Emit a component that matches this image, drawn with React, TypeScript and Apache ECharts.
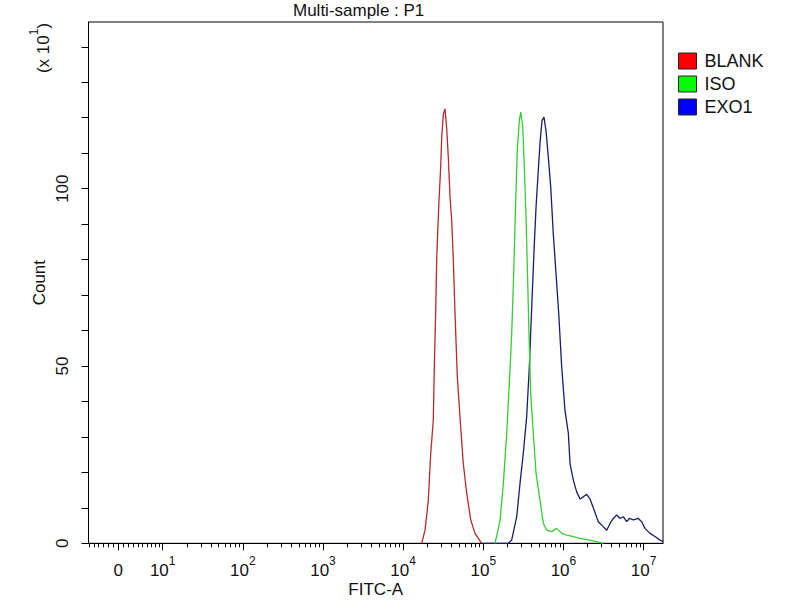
import React, { useEffect, useRef } from "react";
import * as echarts from "echarts";

// x values are in display decades (log10 of FITC-A intensity); y values are Count (x10^1)
const seriesNames = ["BLANK", "ISO", "EXO1"];

const blankData: [number, number][] = [
  [4.231, 0], [4.273, 3.7], [4.314, 12.2], [4.344, 25.4], [4.376, 34.7], [4.389, 49.7],
  [4.406, 65.7], [4.419, 80.7], [4.447, 96.7], [4.468, 106], [4.481, 114.5], [4.501, 121],
  [4.522, 122.5], [4.543, 117], [4.563, 109], [4.585, 97.6], [4.606, 91], [4.626, 79.8],
  [4.647, 64.8], [4.676, 46.9], [4.709, 35.7], [4.75, 22.5], [4.793, 14.1], [4.843, 6.6],
  [4.896, 2.8], [4.98, 0],
];

const isoData: [number, number][] = [
  [5.146, 0], [5.208, 6.3], [5.25, 16.9], [5.292, 31], [5.324, 45], [5.354, 59],
  [5.374, 72.3], [5.395, 89.2], [5.408, 99.5], [5.424, 110.8], [5.449, 119.2], [5.467, 121.6],
  [5.492, 117.4], [5.512, 106], [5.533, 92], [5.549, 77.9], [5.57, 59.2], [5.591, 42.3],
  [5.624, 31], [5.658, 19.7], [5.707, 12.2], [5.749, 5.6], [5.791, 3.7], [5.853, 3.3],
  [5.916, 4.2], [5.978, 2.8], [6.041, 2.3], [6.123, 1.9], [6.207, 1.4], [6.331, 0.9],
  [6.497, 0],
];

const exo1Data: [number, number][] = [
  [4.996, 0], [5.312, 0], [5.354, 0.9], [5.417, 7.5], [5.458, 16.9], [5.499, 25.4],
  [5.541, 35.7], [5.574, 49.7], [5.604, 66.6], [5.633, 82.6], [5.658, 94.8], [5.686, 105.2],
  [5.707, 112.7], [5.732, 119.2], [5.757, 120.2], [5.782, 116.4], [5.811, 108.9], [5.841, 100.5],
  [5.873, 87.3], [5.907, 76.1], [5.941, 64.8], [5.978, 49.7], [6.019, 37.5], [6.061, 31],
  [6.082, 22.5], [6.123, 17.8], [6.165, 14.5], [6.207, 12.5], [6.248, 13.1], [6.29, 13.8],
  [6.331, 12.5], [6.372, 10], [6.435, 6.1], [6.497, 4.7], [6.54, 3.7], [6.581, 5.6],
  [6.622, 7.0], [6.664, 8.0], [6.706, 7.0], [6.747, 7.5], [6.789, 6.1], [6.822, 7.0],
  [6.872, 6.6], [6.934, 7.0], [6.976, 6.1], [7.017, 4.2], [7.08, 2.8], [7.142, 1.9],
  [7.205, 0.9], [7.246, 0.5],
];

// tick labels
const xDecades = [1, 2, 3, 4, 5, 6, 7];
const yLabelValues = [0, 50, 100];
const yTickValues = [0, 10, 20, 30, 40, 50, 60, 70, 80, 90, 100, 110, 120, 130, 140];
const linearTickValues = [-6, -5, -4, -3, -2, -1, 1, 2, 3, 4, 5, 6, 7, 8, 9];

const lineColors = ["#b52a2a", "#35cc35", "#1c1c6a"];
const swatchColors = ["#ff0000", "#00ff00", "#0000ff"];

const FONT = "'Liberation Sans', Arial, sans-serif";
const ZERO_POS = 0.446;
const X_MIN = 0.074;
const X_MAX = 7.242;
const Y_MAX = 147;

// biexponential display position for small (linear-region) values
const linPos = (v: number) => ZERO_POS + 0.629 * Math.asinh(v / 10);

export default function App() {
  const ref = useRef<HTMLDivElement>(null);
  useEffect(() => {
    if (!ref.current) return;
    const chart = echarts.init(ref.current, undefined, { renderer: "svg" });

    const minorTicks: number[] = [];
    linearTickValues.forEach((v) => minorTicks.push(linPos(v)));
    for (let k = 1; k <= 7; k++) {
      for (let m = 2; m <= 9; m++) {
        const p = k + Math.log10(m);
        if (p < X_MAX) minorTicks.push(p);
      }
    }
    const majorTicks = [ZERO_POS, ...xDecades];

    const rich = {
      b: { fontSize: 17, fontFamily: FONT, color: "#111", lineHeight: 24, verticalAlign: "bottom" },
      s: { fontSize: 12, fontFamily: FONT, color: "#111", lineHeight: 24, verticalAlign: "top" },
    };

    chart.setOption({
      animation: false,
      backgroundColor: "#ffffff",
      title: {
        text: "Multi-sample : P1",
        left: 288,
        top: -3,
        textStyle: { fontSize: 17, fontWeight: "normal", color: "#111", fontFamily: FONT },
      },
      legend: {
        orient: "vertical",
        left: 678,
        top: 52,
        padding: 0,
        itemWidth: 18,
        itemHeight: 16,
        itemGap: 5,
        icon: "rect",
        textStyle: { fontSize: 18, color: "#111", fontFamily: FONT, padding: [0, 0, 0, 3] },
        data: seriesNames.map((n, i) => ({
          name: n,
          itemStyle: { color: swatchColors[i], borderColor: "#222", borderWidth: 1 },
        })),
      },
      graphic: [
        {
          type: "text",
          x: 40,
          y: 48,
          rotation: Math.PI / 2,
          style: {
            text: "{b|(x 10}{s|1}{b|)}",
            fontSize: 17,
            fontFamily: FONT,
            fill: "#111",
            align: "center",
            verticalAlign: "middle",
            rich,
          },
        },
      ],
      grid: {
        left: 88.5,
        right: 137,
        top: 22,
        bottom: 56.7,
        show: true,
        borderColor: "#000",
        borderWidth: 1,
        containLabel: false,
        outerBoundsMode: "none",
      },
      xAxis: [
        {
          type: "value",
          min: X_MIN,
          max: X_MAX,
          position: "bottom",
          name: "FITC-A",
          nameLocation: "middle",
          nameMoveOverlap: false,
          nameGap: 38,
          nameTextStyle: { fontSize: 17, lineHeight: 17, color: "#111", fontFamily: FONT },
          axisLine: { show: true, lineStyle: { color: "#000", width: 1 } },
          axisTick: { show: true, customValues: majorTicks, length: 7, lineStyle: { color: "#000" } },
          axisLabel: {
            customValues: majorTicks,
            margin: 12,
            fontSize: 17,
            color: "#111",
            fontFamily: FONT,
            formatter: (v: number) =>
              Math.abs(v - ZERO_POS) < 0.01 ? "{b|0}" : "{b|10}{s|" + Math.round(v) + "}",
            rich,
          },
          splitLine: { show: false },
        },
        {
          type: "value",
          min: X_MIN,
          max: X_MAX,
          position: "bottom",
          offset: 0,
          axisLine: { show: false },
          axisTick: { show: true, customValues: minorTicks, length: 4, lineStyle: { color: "#000" } },
          axisLabel: { show: false },
          splitLine: { show: false },
        },
      ],
      yAxis: {
        type: "value",
        min: 0,
        max: Y_MAX,
        name: "Count",
        nameLocation: "middle",
        nameMoveOverlap: false,
        nameRotate: 90,
        nameGap: 41,
        nameTextStyle: { fontSize: 17, color: "#111", fontFamily: FONT },
        axisLine: { show: true, lineStyle: { color: "#000", width: 1 } },
        axisTick: { show: true, customValues: yTickValues, length: 7, lineStyle: { color: "#000" } },
        axisLabel: {
          customValues: yLabelValues,
          rotate: 90,
          margin: 18,
          fontSize: 17,
          color: "#111",
          fontFamily: FONT,
        },
        splitLine: { show: false },
      },
      series: [blankData, isoData, exo1Data].map((d, i) => ({
        name: seriesNames[i],
        type: "line",
        xAxisIndex: 0,
        data: d,
        symbol: "none",
        showSymbol: false,
        lineStyle: { color: lineColors[i], width: 1.3 },
        itemStyle: { color: swatchColors[i] },
        z: 3 - i,
      })),
    });
    return () => chart.dispose();
  }, []);

  return (
    <div
      ref={ref}
      style={{ position: "fixed", left: 0, top: 0, width: 800, height: 600, background: "#fff" }}
    />
  );
}
